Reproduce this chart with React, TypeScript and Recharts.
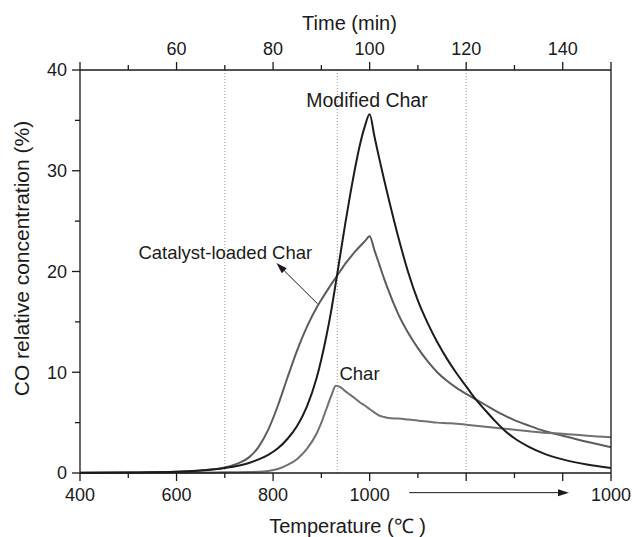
import { LineChart, Line, XAxis, YAxis, ReferenceLine, ReferenceDot } from "recharts"

// time (min) along the run
const times = [
  40, 50, 60, 65, 70, 73, 75, 77, 79, 81, 83, 85, 87, 89, 90, 91, 92, 93, 94, 95, 96, 97, 98, 99, 100,
  101, 102, 103, 104, 106, 108, 110, 112, 114, 116, 118, 120, 122, 124, 126, 128, 130, 133, 136, 140, 145, 150,
]

const modifiedChar = [
  0.02, 0.05, 0.12, 0.25, 0.5, 0.75, 1.0, 1.35, 1.8, 2.45, 3.4, 4.7, 6.6, 9.4, 11.3, 13.5, 16.0, 18.9, 21.9, 24.9, 27.7, 30.3, 32.6, 34.4, 35.6,
  33.4, 31.2, 29.1, 27.1, 23.3, 19.9, 17.1, 14.9, 13.0, 11.35, 9.9, 8.6, 7.3, 6.2, 5.15, 4.2, 3.45, 2.6, 1.95, 1.35, 0.85, 0.5,
]

const catalystChar = [
  0.02, 0.05, 0.12, 0.25, 0.55, 1.0, 1.55, 2.6, 4.3, 6.7, 9.5, 12.2, 14.5, 16.4, 17.2, 17.95, 18.7, 19.4, 20.1, 20.8, 21.4, 22.0, 22.5, 23.0, 23.5,
  22.1, 20.7, 19.3, 18.0, 15.7, 13.9, 12.4, 11.1, 10.0, 9.15, 8.45, 7.85, 7.3, 6.75, 6.2, 5.7, 5.25, 4.7, 4.2, 3.7, 3.1, 2.55,
]

const plainChar = [
  0.01, 0.02, 0.03, 0.05, 0.07, 0.08, 0.1, 0.12, 0.2, 0.4, 0.8, 1.4, 2.4, 3.9, 5.0, 6.3, 7.6, 8.65, 8.5, 8.1, 7.75, 7.4, 7.0, 6.7, 6.35,
  6.0, 5.7, 5.55, 5.45, 5.4, 5.3, 5.2, 5.1, 5.0, 4.95, 4.9, 4.8, 4.7, 4.6, 4.5, 4.4, 4.3, 4.15, 4.0, 3.9, 3.7, 3.55,
]

const timeTicks = [40, 50, 60, 70, 80, 90, 100, 110, 120, 130, 140, 150]
const timeLabels: Record<number, string> = { 60: "60", 80: "80", 100: "100", 120: "120", 140: "140" }
const tempLabels: Record<number, string> = { 40: "400", 60: "600", 80: "800", 100: "1000", 150: "1000" }
const yTicks = [0, 5, 10, 15, 20, 25, 30, 35, 40]
const yLabels: Record<number, string> = { 0: "0", 10: "10", 20: "20", 30: "30", 40: "40" }
const guideTimes = [70, 93.3, 120]

const data = times.map((t, i) => ({
  t,
  modified: modifiedChar[i],
  catalyst: catalystChar[i],
  char: plainChar[i],
}))

const font = "'Liberation Sans', Arial, sans-serif"
const ink = "#1a1a1a"

const isMajorTime = (v: number) => v % 20 === 0 || v === 150

function BottomTick({ x, y, payload }: any) {
  const v = payload.value
  const label = tempLabels[v]
  return (
    <g>
      <line x1={x} x2={x} y1={y} y2={y + (isMajorTime(v) ? 8 : 5)} stroke={ink} strokeWidth={1.3} />
      {label && (
        <text x={x} y={y + 28} textAnchor="middle" fontSize={18} fontFamily={font} fill={ink}>
          {label}
        </text>
      )}
    </g>
  )
}

function TopTick({ x, y, payload }: any) {
  const v = payload.value
  const label = timeLabels[v]
  return (
    <g>
      <line x1={x} x2={x} y1={y} y2={y - (isMajorTime(v) ? 8 : 5)} stroke={ink} strokeWidth={1.3} />
      {label && (
        <text x={x} y={y - 15} textAnchor="middle" fontSize={18} fontFamily={font} fill={ink}>
          {label}
        </text>
      )}
    </g>
  )
}

function LeftTick({ x, y, payload }: any) {
  const v = payload.value
  const label = yLabels[v]
  return (
    <g>
      <line x1={x} x2={x - (label ? 8 : 5)} y1={y} y2={y} stroke={ink} strokeWidth={1.3} />
      {label && (
        <text x={x - 13} y={y} dy="0.35em" textAnchor="end" fontSize={18} fontFamily={font} fill={ink}>
          {label}
        </text>
      )}
    </g>
  )
}

function YTitle({ viewBox }: any) {
  const cx = viewBox.x + 22
  const cy = viewBox.y + viewBox.height / 2 - 13
  return (
    <text
      transform={`translate(${cx},${cy}) rotate(-90)`}
      textAnchor="middle"
      dy="0.35em"
      fontSize={21}
      fontFamily={font}
      fill={ink}
    >
      CO relative concentration (%)
    </text>
  )
}

function Arrow(props: any) {
  const { x1, y1, x2, y2 } = props
  const a = Math.atan2(y2 - y1, x2 - x1)
  const len = 11
  const w = 3.5
  const bx = x2 - len * Math.cos(a)
  const by = y2 - len * Math.sin(a)
  const p1 = `${bx - w * Math.sin(a)},${by + w * Math.cos(a)}`
  const p2 = `${bx + w * Math.sin(a)},${by - w * Math.cos(a)}`
  return (
    <g>
      <line x1={x1} y1={y1} x2={bx} y2={by} stroke={ink} strokeWidth={1} />
      <polygon points={`${x2},${y2} ${p1} ${p2}`} fill={ink} />
    </g>
  )
}

export default function App() {
  return (
    <div style={{ position: "absolute", left: 0, top: 0, background: "#fff" }}>
      <LineChart width={634} height={537} data={data} margin={{ top: 0, right: 0, bottom: 0, left: 0 }}>
        <XAxis
          dataKey="t"
          type="number"
          domain={[40, 150]}
          ticks={timeTicks}
          height={64}
          tick={<BottomTick />}
          tickLine={false}
          tickSize={0}
          tickMargin={0}
          stroke={ink}
          strokeWidth={1.3}
          interval={0}
          label={{ value: "Temperature (℃ )", position: "insideBottom", offset: 4, dx: 2, fontSize: 20, fill: ink, fontFamily: font }}
        />
        <XAxis
          xAxisId="top"
          orientation="top"
          dataKey="t"
          type="number"
          domain={[40, 150]}
          ticks={timeTicks}
          height={70}
          tick={<TopTick />}
          tickLine={false}
          tickSize={0}
          tickMargin={0}
          stroke={ink}
          strokeWidth={1.3}
          interval={0}
          label={{ value: "Time (min)", position: "insideTop", offset: 16, dx: 4, fontSize: 20, fill: ink, fontFamily: font }}
        />
        <YAxis
          type="number"
          domain={[0, 40]}
          ticks={yTicks}
          width={80}
          tick={<LeftTick />}
          tickLine={false}
          tickSize={0}
          tickMargin={0}
          stroke={ink}
          strokeWidth={1.3}
          interval={0}
          label={{ content: <YTitle /> }}
        />
        <YAxis
          yAxisId="right"
          orientation="right"
          type="number"
          domain={[0, 40]}
          width={23}
          tick={false}
          tickLine={false}
          stroke={ink}
          strokeWidth={1.3}
        />
        {guideTimes.map((g) => (
          <ReferenceLine key={g} x={g} stroke="#9a9a9a" strokeDasharray="1 2" strokeWidth={1} />
        ))}
        <Line type="monotone" dataKey="catalyst" stroke="#5c5c5c" strokeWidth={2} dot={false} isAnimationActive={false} />
        <Line type="monotone" dataKey="char" stroke="#707070" strokeWidth={2} dot={false} isAnimationActive={false} />
        <Line type="monotone" dataKey="modified" stroke="#1c1c1c" strokeWidth={2} dot={false} isAnimationActive={false} />
        <ReferenceLine
          segment={[{ x: 89.2, y: 16.8 }, { x: 80.7, y: 20.85 }]}
          ifOverflow="visible"
          shape={Arrow}
        />
        <ReferenceLine
          segment={[{ x: 108.2, y: -1.95 }, { x: 141.3, y: -1.95 }]}
          ifOverflow="visible"
          shape={Arrow}
        />
        <ReferenceDot x={99.45} y={36.98} r={0} ifOverflow="visible"
          label={{ value: "Modified Char", position: "center", fontSize: 19.5, fill: ink, fontFamily: font }} />
        <ReferenceDot x={70.1} y={21.9} r={0} ifOverflow="visible"
          label={{ value: "Catalyst-loaded Char", position: "center", fontSize: 18.5, fill: ink, fontFamily: font }} />
        <ReferenceDot x={97.9} y={9.85} r={0} ifOverflow="visible"
          label={{ value: "Char", position: "center", fontSize: 18.5, fill: ink, fontFamily: font }} />
      </LineChart>
    </div>
  )
}
